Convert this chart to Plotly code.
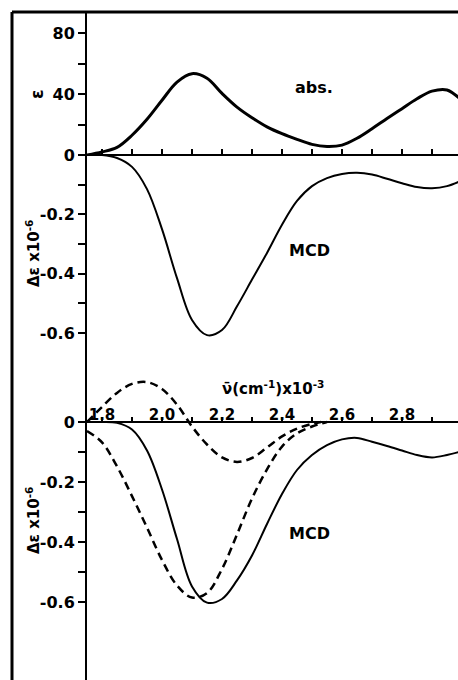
import plotly.graph_objects as go

# ---- data (wavenumber axis as labelled) ----
abs_w = [1.75, 1.80, 1.85, 1.90, 1.95, 2.00, 2.05, 2.10, 2.15, 2.20, 2.25, 2.30, 2.35,
         2.40, 2.45, 2.50, 2.55, 2.60, 2.65, 2.70, 2.75, 2.80, 2.85, 2.90, 2.95, 2.99]
abs_eps = [0, 2, 5, 13, 23.5, 36, 48, 53.5, 50.5, 40.5, 31.5, 24.5, 18.5,
           14, 10.3, 7, 5.6, 6.5, 11, 17.3, 24, 30.5, 37, 42, 42.8, 37.5]

mcd_w = [1.75, 1.80, 1.85, 1.90, 1.95, 2.00, 2.05, 2.10, 2.15, 2.20, 2.25, 2.30, 2.35,
         2.40, 2.45, 2.50, 2.55, 2.60, 2.65, 2.70, 2.75, 2.80, 2.85, 2.90, 2.95, 2.99]
mcd_de = [0, 0, -0.01, -0.04, -0.115, -0.25, -0.415, -0.556, -0.607, -0.59, -0.51, -0.42, -0.33,
          -0.235, -0.155, -0.105, -0.078, -0.064, -0.06, -0.066, -0.08, -0.095, -0.108,
          -0.112, -0.105, -0.09]

mcd2_w = [1.75, 1.80, 1.85, 1.90, 1.95, 2.00, 2.05, 2.10, 2.15, 2.20, 2.25, 2.30, 2.35,
          2.40, 2.45, 2.50, 2.55, 2.60, 2.65, 2.70, 2.75, 2.80, 2.85, 2.90, 2.95, 2.99]
mcd2_de = [0, 0, -0.003, -0.025, -0.095, -0.225, -0.39, -0.548, -0.602, -0.59, -0.528, -0.445,
           -0.34, -0.24, -0.16, -0.11, -0.077, -0.058, -0.053, -0.066, -0.08, -0.095, -0.11,
           -0.118, -0.11, -0.1]

dashA_w = [1.75, 1.80, 1.85, 1.90, 1.95, 2.00, 2.05, 2.10, 2.15, 2.20, 2.25, 2.30, 2.35,
           2.40, 2.45, 2.50, 2.55]
dashA_de = [-0.03, -0.068, -0.148, -0.247, -0.352, -0.46, -0.545, -0.585, -0.57, -0.49,
            -0.375, -0.255, -0.158, -0.082, -0.038, -0.015, 0]

dashB_w = [1.75, 1.80, 1.85, 1.90, 1.95, 2.00, 2.05, 2.10, 2.15, 2.20, 2.25, 2.30, 2.35,
           2.40, 2.45, 2.50, 2.53]
dashB_de = [0, 0.05, 0.097, 0.127, 0.133, 0.11, 0.058, -0.015, -0.075, -0.118, -0.133, -0.12,
            -0.085, -0.048, -0.022, -0.006, 0]

x_ticks = [1.8, 1.9, 2.0, 2.1, 2.2, 2.3, 2.4, 2.5, 2.6, 2.7, 2.8, 2.9]
x_ticktext = ["1.8", "", "2.0", "", "2.2", "", "2.4", "", "2.6", "", "2.8", ""]
abs_ticks = [0, 20, 40, 60, 80]
abs_ticktext = ["0", "", "40", "", "80"]
mcd_ticks = [-0.1, -0.2, -0.3, -0.4, -0.5, -0.6]
mcd_ticktext = ["", "-0.2", "", "-0.4", "", "-0.6"]
mcd2_ticks = [0, -0.1, -0.2, -0.3, -0.4, -0.5, -0.6]
mcd2_ticktext = ["0", "", "-0.2", "", "-0.4", "", "-0.6"]

# ---- geometry (pixels in the 458x680 window) ----
W, H = 458, 680
X0 = 87          # y-axis position
Y_TOP = 13
Y_AX1 = 155      # zero line of upper panels
Y_SPLIT = 375
Y_AX2 = 422      # zero line of lower panel
PX_PER_X = 300.0
PX_ABS = 1.52
PX_MCD1 = 296.7
PX_MCD2 = 300.0


def px(p):
    return p / W


def py(p):
    return 1 - p / H


x_range = [1.75, 1.75 + (W - X0) / PX_PER_X]
FONT = "DejaVu Sans"

fig = go.Figure()
line_kw = dict(shape="spline", smoothing=1.0)
fig.add_trace(go.Scatter(x=abs_w, y=abs_eps, mode="lines", xaxis="x", yaxis="y",
                         line=dict(color="black", width=3, **line_kw)))
fig.add_trace(go.Scatter(x=mcd_w, y=mcd_de, mode="lines", xaxis="x", yaxis="y2",
                         line=dict(color="black", width=2, **line_kw)))
fig.add_trace(go.Scatter(x=mcd2_w, y=mcd2_de, mode="lines", xaxis="x2", yaxis="y3",
                         line=dict(color="black", width=2, **line_kw)))
fig.add_trace(go.Scatter(x=dashA_w, y=dashA_de, mode="lines", xaxis="x2", yaxis="y3",
                         line=dict(color="black", width=2.5, dash="8px,5px", **line_kw)))
fig.add_trace(go.Scatter(x=dashB_w, y=dashB_de, mode="lines", xaxis="x2", yaxis="y3",
                         line=dict(color="black", width=2.5, dash="8px,5px", **line_kw)))

ytickfont = dict(family=FONT, size=16, color="black", weight="bold")
xtickfont = dict(family=FONT, size=15, color="black", weight="bold")
common_y = dict(showline=True, linecolor="black", linewidth=2, automargin=False,
                ticks="outside", ticklen=7, tickwidth=1.5, tickcolor="black",
                showgrid=False, zeroline=False, tickfont=ytickfont, tickmode="array")
common_x = dict(domain=[px(X0), 1], range=x_range, anchor="free", showline=True,
                automargin=False, linecolor="black", linewidth=2, tickwidth=1.5,
                tickcolor="black", showgrid=False, zeroline=False, tickfont=xtickfont,
                tickmode="array", tickvals=x_ticks)

fig.update_layout(
    width=W, height=H, margin=dict(l=0, r=0, t=0, b=0, autoexpand=False),
    paper_bgcolor="white", plot_bgcolor="white", showlegend=False,
    xaxis=dict(position=py(Y_AX1), side="bottom", ticks="inside", ticklen=5,
               showticklabels=False, **common_x),
    xaxis2=dict(position=py(Y_AX2), side="top", ticks="outside", ticklen=4,
                ticktext=x_ticktext, ticklabelstandoff=-9, **common_x),
    yaxis=dict(anchor="x", domain=[py(Y_AX1), py(Y_TOP)], range=[0, (Y_AX1 - Y_TOP) / PX_ABS],
               tickvals=abs_ticks, ticktext=abs_ticktext, **common_y),
    yaxis2=dict(anchor="x", domain=[py(Y_SPLIT), py(Y_AX1)], range=[-(Y_SPLIT - Y_AX1) / PX_MCD1, 0],
                tickvals=mcd_ticks, ticktext=mcd_ticktext, **common_y),
    yaxis3=dict(anchor="x2", domain=[0, py(Y_SPLIT)],
                range=[-(H - Y_AX2) / PX_MCD2, (Y_AX2 - Y_SPLIT) / PX_MCD2],
                tickvals=mcd2_ticks, ticktext=mcd2_ticktext, **common_y),
)

# outer frame
fig.add_shape(type="line", xref="paper", yref="paper", x0=px(12), x1=1, y0=py(12), y1=py(12),
              line=dict(color="black", width=3))
fig.add_shape(type="line", xref="paper", yref="paper", x0=px(12), x1=px(12), y0=py(12), y1=0,
              line=dict(color="black", width=3))


def note(text, x, y, size=16, angle=0):
    fig.add_annotation(text=text, x=px(x), y=py(y), xref="paper", yref="paper",
                       showarrow=False, textangle=angle, xanchor="center", yanchor="middle",
                       font=dict(family=FONT, size=size, color="black", weight="bold"))


note("ε", 37, 95, size=17, angle=-90)
note("Δε x10<sup>-6</sup>", 33, 254, size=15, angle=-90)
note("Δε x10<sup>-6</sup>", 33, 521, size=15, angle=-90)
note("abs.", 314, 88, size=16)
note("MCD", 309, 250, size=16)
note("MCD", 309, 533, size=16)
note("ν̄(cm<sup>-1</sup>)x10<sup>-3</sup>", 273, 388, size=15)

fig.write_html("out.html", config={"displayModeBar": False},
               post_script="document.body.style.margin='0px';")
